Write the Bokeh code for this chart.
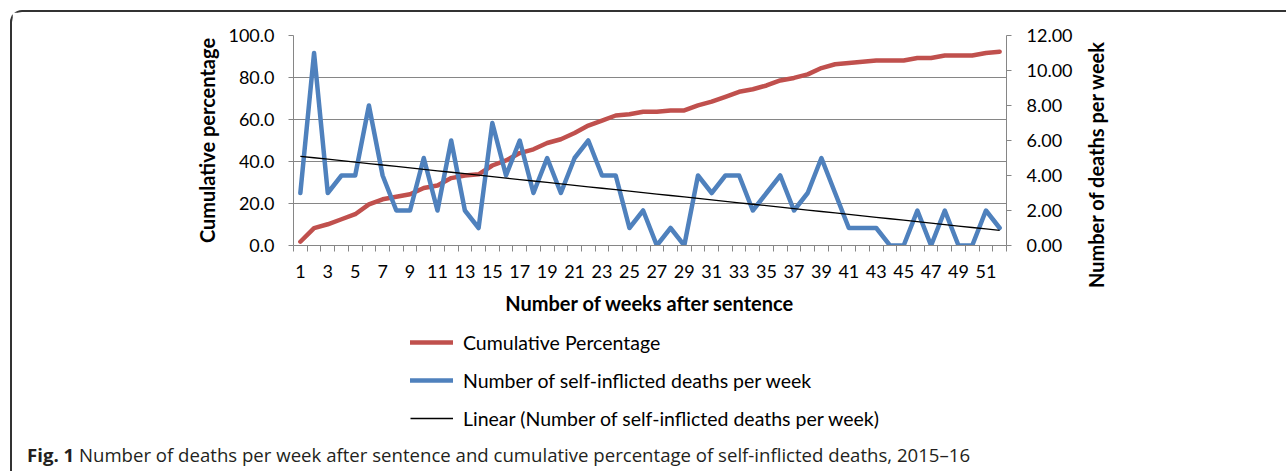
import numpy as np
from bokeh.plotting import figure
from bokeh.layouts import column, row
from bokeh.models import (Range1d, LinearAxis, FixedTicker, NumeralTickFormatter,
                          Legend, LegendItem, Div)
from bokeh.embed import file_html
from bokeh.resources import INLINE

# ---------------- data ----------------
weeks = list(range(1, 53))
deaths = [3, 11, 3, 4, 4, 8, 4, 2, 2, 5,
          2, 6, 2, 1, 7, 4, 6, 3, 5, 3,
          5, 6, 4, 4, 1, 2, 0, 1, 0, 4,
          3, 4, 4, 2, 3, 4, 2, 3, 5, 3,
          1, 1, 1, 0, 0, 2, 0, 2, 0, 0,
          2, 1]
cumulative = [1.8, 8.3, 10.1, 12.5, 14.9, 19.6, 22.0, 23.2, 24.4, 27.4,
              28.6, 32.1, 33.3, 33.9, 38.1, 40.5, 44.0, 45.8, 48.8, 50.6,
              53.6, 57.1, 59.5, 61.9, 62.5, 63.7, 63.7, 64.3, 64.3, 66.7,
              68.5, 70.8, 73.2, 74.4, 76.2, 78.6, 79.8, 81.5, 84.5, 86.3,
              86.9, 87.5, 88.1, 88.1, 88.1, 89.3, 89.3, 90.5, 90.5, 90.5,
              91.7, 92.3]
x_tick_values = list(range(1, 53, 2))
x_tick_labels = [str(w) for w in x_tick_values]
left_ticks = [0, 20, 40, 60, 80, 100]
right_ticks = [0, 2, 4, 6, 8, 10, 12]

series_names = ["Cumulative Percentage",
                "Number of self-inflicted deaths per week",
                "Linear (Number of self-inflicted deaths per week)"]
x_title = "Number of weeks after sentence"
left_title = "Cumulative percentage"
right_title = "Number of deaths per week"
caption_bold = "Fig. 1"
caption_text = ("Number of deaths per week after sentence and cumulative "
                "percentage of self-inflicted deaths, 2015\u201316")

# linear trendline (least squares, like Excel's "Linear" trendline)
slope, intercept = np.polyfit(weeks, deaths, 1)
trend = [intercept + slope * w for w in weeks]

# ---------------- layout constants ----------------
O = 12            # page offset of the content (10px margin + 2px frame border)
W = 1274          # full content width
WP = 1068         # chart canvas width (up to the right tick labels)
HP = 315          # chart canvas height
HQ = 113          # legend strip height
HC = 31           # caption height
FONT = "Lato"
GRID = "#868686"
RED = "#C0504D"
BLUE = "#4F81BD"
BL = 293 - O              # left border of the plot frame
FR = 1006 - O             # right edge of the plot frame

# ---------------- main chart ----------------
p = figure(width=WP, height=HP, output_backend="svg", toolbar_location=None,
           x_range=Range1d(0.5, 52.5), y_range=Range1d(0, 100),
           min_border_left=BL, min_border_right=WP - FR,
           min_border_top=35 - O, min_border_bottom=HP - (245 - O))
p.extra_y_ranges = {"right": Range1d(0, 12)}
p.outline_line_color = None
p.xgrid.visible = False
p.ygrid.grid_line_color = GRID
p.ygrid.grid_line_width = 1

# x axis
xa = p.xaxis[0]
xa.ticker = FixedTicker(ticks=x_tick_values,
                        minor_ticks=[w - 0.5 for w in weeks] + [weeks[-1] + 0.5])
xa.major_label_overrides = dict(zip(x_tick_values, x_tick_labels))
xa.axis_line_color = GRID
xa.major_tick_line_color = None
xa.major_tick_out = 0
xa.major_tick_in = 0
xa.minor_tick_line_color = GRID
xa.minor_tick_out = 6
xa.minor_tick_in = 0
xa.major_label_standoff = 13
xa.major_label_text_font = FONT
xa.major_label_text_font_size = "18px"
xa.major_label_text_color = "black"
xa.axis_label = x_title
xa.axis_label_text_font = FONT
xa.axis_label_text_font_style = "bold"
xa.axis_label_text_font_size = "20px"
xa.axis_label_text_color = "black"
xa.axis_label_standoff = 10

# left axis
ya = p.yaxis[0]
ya.ticker = FixedTicker(ticks=left_ticks)
ya.formatter = NumeralTickFormatter(format="0.0")
ya.axis_line_color = GRID
ya.major_tick_line_color = GRID
ya.major_tick_out = 5
ya.major_tick_in = 0
ya.minor_tick_line_color = None
ya.major_label_standoff = 14
ya.major_label_text_font = FONT
ya.major_label_text_font_size = "18px"
ya.major_label_text_color = "black"
ya.axis_label = left_title
ya.axis_label_text_font = FONT
ya.axis_label_text_font_style = "bold"
ya.axis_label_text_font_size = "20px"
ya.axis_label_text_color = "black"
ya.axis_label_standoff = 6

# right axis
ra = LinearAxis(y_range_name="right", ticker=FixedTicker(ticks=right_ticks),
                formatter=NumeralTickFormatter(format="0.00"))
ra.axis_line_color = GRID
ra.major_tick_line_color = GRID
ra.major_tick_out = 5
ra.major_tick_in = 0
ra.minor_tick_line_color = None
ra.major_label_standoff = 15
ra.major_label_text_font = FONT
ra.major_label_text_font_size = "18px"
ra.major_label_text_color = "black"
p.add_layout(ra, "right")

# series
r_cum = p.line(weeks, cumulative, line_color=RED, line_width=4.5,
               line_join="round", line_cap="round")
r_dea = p.line(weeks, deaths, y_range_name="right", line_color=BLUE,
               line_width=4.5, line_join="round", line_cap="round")
r_trend = p.line(weeks, trend, y_range_name="right", line_color="black",
                 line_width=1.3)

# right axis title: reads bottom-to-top and sits a little low, as in the original
rtitle = Div(width=W - WP, height=HP, margin=0,
             text=('<div style="position:relative;width:%dpx;height:%dpx;">'
                   '<div style="position:absolute;left:%dpx;top:%dpx;'
                   'transform:translate(-50%%,-50%%) rotate(-90deg);'
                   'white-space:nowrap;font-family:Lato;font-weight:bold;'
                   'font-size:20px;line-height:24px;color:black;">%s</div></div>'
                   % (W - WP, HP, 1096 - (O + WP), 165 - O, right_title)))

# ---------------- legend strip ----------------
q = figure(width=W, height=HQ, output_backend="svg", toolbar_location=None,
           x_axis_type=None, y_axis_type=None,
           min_border_left=BL, min_border_right=W - FR,
           min_border_top=0, min_border_bottom=0)
q.outline_line_color = None
q.grid.visible = False
# legend keys: the same series, styled like the chart, kept hidden here
k_cum = q.line(weeks, cumulative, line_color=RED, line_width=4.5,
               line_cap="round", visible=False)
k_dea = q.line(weeks, deaths, line_color=BLUE, line_width=4.5,
               line_cap="round", visible=False)
k_trend = q.line(weeks, trend, line_color="black", line_width=1.3,
                 visible=False)

legend = Legend(items=[LegendItem(label=series_names[0], renderers=[k_cum]),
                       LegendItem(label=series_names[1], renderers=[k_dea]),
                       LegendItem(label=series_names[2], renderers=[k_trend])],
                location=(410 - 293, 10), orientation="vertical",
                glyph_width=43, glyph_height=24, label_height=24,
                label_standoff=10, spacing=14, padding=0, margin=0,
                border_line_color=None, background_fill_alpha=0,
                inactive_fill_alpha=0,
                label_text_font=FONT, label_text_font_size="19.5px",
                label_text_color="black")
q.add_layout(legend)

# ---------------- caption ----------------
cap = Div(width=W, height=HC, margin=0,
          text=('<div style="font-family:\'Open Sans\';font-size:18.6px;'
                'line-height:20px;color:#231f20;white-space:nowrap;'
                'padding:5px 0 0 %dpx;"><b>%s</b> %s</div>'
                % (27 - O, caption_bold, caption_text)))

page = column(row(p, rtitle, spacing=0), q, cap, spacing=0,
              styles={"margin-left": "10px", "margin-top": "10px",
                      "border-top": "2px solid #333",
                      "border-left": "2px solid #333",
                      "border-top-left-radius": "12px"})

open("out.html", "w").write(file_html(page, INLINE))
